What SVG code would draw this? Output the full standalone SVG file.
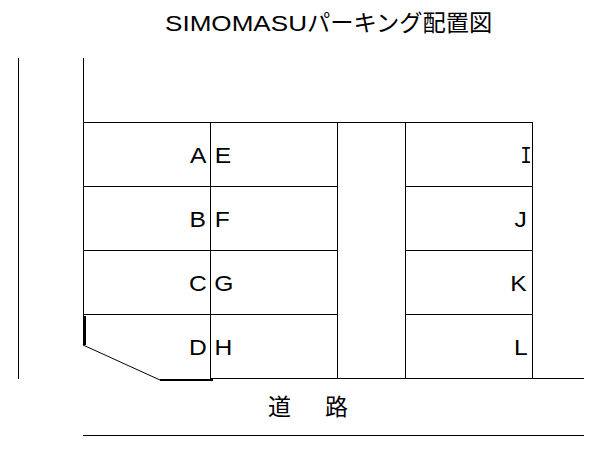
<svg xmlns="http://www.w3.org/2000/svg" width="608" height="460" viewBox="0 0 608 460">
<style>
.l{stroke:#000;stroke-width:1;fill:none;shape-rendering:crispEdges}
.h{stroke:#000;stroke-width:2;fill:none;shape-rendering:crispEdges}
text{font-family:"Liberation Sans","Noto Sans CJK JP",sans-serif;fill:#000}
.s{font-size:22px}
.m{font-family:"Liberation Mono",monospace;font-size:24px}
</style>
<rect width="608" height="460" fill="#fff"/>
<g id="connectors">
<path class="l" d="M18.500 58V379M83.500 58V345M83 122.500H532.500M83 186.500H337.500M83 250.500H337.500M83 314.500H337.500M405 186.500H532.500M405 250.500H532.500M405 314.500H532.500M210.500 122V380M337.500 122V378M405.500 122V378M532.500 122V378M210 378.500H584M83 435.500H584"/>
<path class="h" d="M85 316V345M160 380H213"/>
<path d="M83 345L160 380" stroke="#000" stroke-width="1" fill="none"/>
</g>
<text id="title" x="165" y="31" font-size="22"><tspan textLength="142" lengthAdjust="spacingAndGlyphs">SIMOMASU</tspan><tspan font-size="23.250">パーキング配置図</tspan></text>
<g id="A"><text class="s" transform="translate(190 163) scale(1.12 1)">A</text></g>
<g id="B"><text class="s" transform="translate(189.500 227) scale(1.12 1)">B</text></g>
<g id="C"><text class="s" transform="translate(189 291) scale(1.12 1)">C</text></g>
<g id="D"><text class="s" transform="translate(189 355) scale(1.12 1)">D</text></g>
<g id="E"><text class="s" transform="translate(214.800 163) scale(1.12 1)">E</text></g>
<g id="F"><text class="s" transform="translate(214.800 227) scale(1.12 1)">F</text></g>
<g id="G"><text class="s" transform="translate(214.300 291) scale(1.12 1)">G</text></g>
<g id="H"><text class="s" transform="translate(214.500 355) scale(1.12 1)">H</text></g>
<g id="I"><text class="m" text-anchor="middle" transform="translate(526 163) scale(0.8 1)">I</text></g>
<g id="J"><text class="s" transform="translate(514.500 227) scale(1.12 1)">J</text></g>
<g id="K"><text class="s" transform="translate(510.300 291) scale(1.12 1)">K</text></g>
<g id="L"><text class="s" transform="translate(514 355) scale(1.12 1)">L</text></g>
<g id="road"><text x="268" y="415" font-size="23">道</text><text x="325" y="415" font-size="23">路</text></g>
</svg>
